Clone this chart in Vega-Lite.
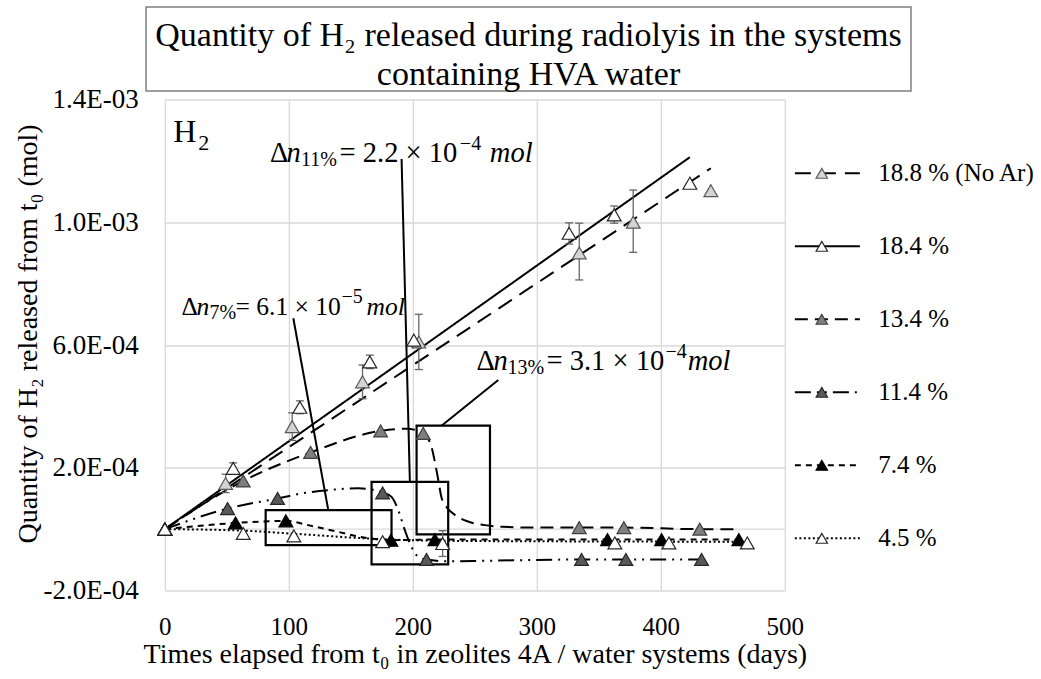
{
"$schema": "https://vega.github.io/schema/vega-lite/v6.json",
"background": "#ffffff",
"padding": {"left": 14, "top": 6, "right": 0, "bottom": 0},
"config": {"font": "Liberation Serif", "view": {"stroke": null}},
"datasets": {
"points": [
{"series":"18.8 % (No Ar)","day":0,"mol":0},
{"series":"18.8 % (No Ar)","day":49,"mol":0.000149},
{"series":"18.8 % (No Ar)","day":102.7,"mol":0.000334},
{"series":"18.8 % (No Ar)","day":159.4,"mol":0.00048},
{"series":"18.8 % (No Ar)","day":204.8,"mol":0.00061},
{"series":"18.8 % (No Ar)","day":334.2,"mol":0.0009},
{"series":"18.8 % (No Ar)","day":377.7,"mol":0.001},
{"series":"18.8 % (No Ar)","day":440.3,"mol":0.001103},
{"series":"18.4 %","day":0,"mol":0},
{"series":"18.4 %","day":55.1,"mol":0.000198},
{"series":"18.4 %","day":108.9,"mol":0.000397},
{"series":"18.4 %","day":165.3,"mol":0.000545},
{"series":"18.4 %","day":200.8,"mol":0.000616},
{"series":"18.4 %","day":326,"mol":0.000964},
{"series":"18.4 %","day":362.4,"mol":0.001024},
{"series":"18.4 %","day":423.4,"mol":0.001127},
{"series":"13.4 %","day":0,"mol":0},
{"series":"13.4 %","day":63.2,"mol":0.000157},
{"series":"13.4 %","day":117.5,"mol":0.00025},
{"series":"13.4 %","day":174,"mol":0.00032},
{"series":"13.4 %","day":208.4,"mol":0.000312},
{"series":"13.4 %","day":334.2,"mol":0.000005},
{"series":"13.4 %","day":370.2,"mol":0.000005},
{"series":"13.4 %","day":431.4,"mol":0},
{"series":"11.4 %","day":0,"mol":0},
{"series":"11.4 %","day":50.6,"mol":0.000067},
{"series":"11.4 %","day":90.9,"mol":0.0001},
{"series":"11.4 %","day":175.6,"mol":0.000118},
{"series":"11.4 %","day":211,"mol":-0.000099},
{"series":"11.4 %","day":336,"mol":-0.000099},
{"series":"11.4 %","day":371.8,"mol":-0.000099},
{"series":"11.4 %","day":432.8,"mol":-0.000099},
{"series":"7.4 %","day":0,"mol":0},
{"series":"7.4 %","day":57,"mol":0.00002},
{"series":"7.4 %","day":97.6,"mol":0.000027},
{"series":"7.4 %","day":182.3,"mol":-0.000036},
{"series":"7.4 %","day":217.8,"mol":-0.000034},
{"series":"7.4 %","day":357,"mol":-0.000034},
{"series":"7.4 %","day":400.6,"mol":-0.000034},
{"series":"7.4 %","day":462.9,"mol":-0.000034},
{"series":"4.5 %","day":0,"mol":0},
{"series":"4.5 %","day":63.2,"mol":-0.000014},
{"series":"4.5 %","day":104,"mol":-0.000022},
{"series":"4.5 %","day":175.6,"mol":-0.000041},
{"series":"4.5 %","day":224,"mol":-0.000047},
{"series":"4.5 %","day":362.9,"mol":-0.000045},
{"series":"4.5 %","day":406.5,"mol":-0.000045},
{"series":"4.5 %","day":469.7,"mol":-0.000045}
],
"curves": [
{"series":"18.8 % (No Ar)","day":0,"mol":0},
{"series":"18.8 % (No Ar)","day":440.3,"mol":0.001176},
{"series":"18.4 %","day":0,"mol":0},
{"series":"18.4 %","day":423.4,"mol":0.001212},
{"series":"13.4 %","day":0,"mol":0},
{"series":"13.4 %","day":63.2,"mol":0.000157},
{"series":"13.4 %","day":117.5,"mol":0.00025},
{"series":"13.4 %","day":174,"mol":0.00032},
{"series":"13.4 %","day":195,"mol":0.000327},
{"series":"13.4 %","day":208.4,"mol":0.000312},
{"series":"13.4 %","day":215,"mol":0.000268},
{"series":"13.4 %","day":218,"mol":0.000214},
{"series":"13.4 %","day":220.5,"mol":0.00016},
{"series":"13.4 %","day":223,"mol":0.000105},
{"series":"13.4 %","day":227,"mol":0.000073},
{"series":"13.4 %","day":234,"mol":0.000046},
{"series":"13.4 %","day":245,"mol":0.000024},
{"series":"13.4 %","day":258,"mol":0.000013},
{"series":"13.4 %","day":272,"mol":0.0000075},
{"series":"13.4 %","day":300,"mol":0.000005},
{"series":"13.4 %","day":334.2,"mol":0.000005},
{"series":"13.4 %","day":370.2,"mol":0.000005},
{"series":"13.4 %","day":431.4,"mol":0},
{"series":"13.4 %","day":459.7,"mol":0},
{"series":"11.4 %","day":0,"mol":0},
{"series":"11.4 %","day":50.6,"mol":0.000067},
{"series":"11.4 %","day":90.9,"mol":0.0001},
{"series":"11.4 %","day":110,"mol":0.000116},
{"series":"11.4 %","day":137,"mol":0.000129},
{"series":"11.4 %","day":156,"mol":0.000133},
{"series":"11.4 %","day":175.6,"mol":0.00012},
{"series":"11.4 %","day":182.8,"mol":0.000105},
{"series":"11.4 %","day":188.2,"mol":0.000062},
{"series":"11.4 %","day":193.5,"mol":-0.000003},
{"series":"11.4 %","day":198.9,"mol":-0.000058},
{"series":"11.4 %","day":204.3,"mol":-0.00009},
{"series":"11.4 %","day":211,"mol":-0.000099},
{"series":"11.4 %","day":228.5,"mol":-0.000105},
{"series":"11.4 %","day":260,"mol":-0.000103},
{"series":"11.4 %","day":336,"mol":-0.000099},
{"series":"11.4 %","day":371.8,"mol":-0.000099},
{"series":"11.4 %","day":432.8,"mol":-0.000099},
{"series":"7.4 %","day":0,"mol":0},
{"series":"7.4 %","day":57,"mol":0.00002},
{"series":"7.4 %","day":97.6,"mol":0.000027},
{"series":"7.4 %","day":115.6,"mol":0.000013},
{"series":"7.4 %","day":139.8,"mol":-0.000009},
{"series":"7.4 %","day":164,"mol":-0.00003},
{"series":"7.4 %","day":182.3,"mol":-0.000036},
{"series":"7.4 %","day":217.8,"mol":-0.000034},
{"series":"7.4 %","day":357,"mol":-0.000034},
{"series":"7.4 %","day":400.6,"mol":-0.000034},
{"series":"7.4 %","day":462.9,"mol":-0.000034},
{"series":"4.5 %","day":0,"mol":0},
{"series":"4.5 %","day":63,"mol":-0.000005},
{"series":"4.5 %","day":104,"mol":-0.000015},
{"series":"4.5 %","day":176,"mol":-0.000033},
{"series":"4.5 %","day":224,"mol":-0.000038},
{"series":"4.5 %","day":330,"mol":-0.00004},
{"series":"4.5 %","day":470,"mol":-0.000041}
],
"errors": [
{"series":"18.8 % (No Ar)","day":49,"lo":0.000119,"hi":0.000179},
{"series":"18.8 % (No Ar)","day":102.7,"lo":0.000289,"hi":0.000379},
{"series":"18.8 % (No Ar)","day":159.4,"lo":0.000425,"hi":0.000535},
{"series":"18.8 % (No Ar)","day":204.8,"lo":0.00052,"hi":0.0007},
{"series":"18.8 % (No Ar)","day":334.2,"lo":0.000812,"hi":0.000997},
{"series":"18.8 % (No Ar)","day":377.7,"lo":0.000902,"hi":0.001105},
{"series":"18.4 %","day":55.1,"lo":0.00018,"hi":0.000216},
{"series":"18.4 %","day":108.9,"lo":0.000376,"hi":0.000418},
{"series":"18.4 %","day":165.3,"lo":0.000523,"hi":0.000567},
{"series":"18.4 %","day":326,"lo":0.000929,"hi":0.000998},
{"series":"18.4 %","day":362.4,"lo":0.000997,"hi":0.001053},
{"series":"4.5 %","day":224,"lo":-0.000089,"hi":-0.000005}
],
"boxes": [
{"day":81.3,"day2":182.8,"mol":0.000062,"mol2":-0.000052},
{"day":166.7,"day2":228.5,"mol":0.000154,"mol2":-0.000115},
{"day":203,"day2":262.2,"mol":0.000337,"mol2":-0.000017}
],
"leaders": [
{"day":103.6,"mol":0.000687,"day2":131.8,"mol2":0.000062},
{"day":190.9,"mol":0.001206,"day2":197.6,"mol2":0.000154},
{"day":268.9,"mol":0.000486,"day2":223.1,"mol2":0.000337}
],
"notes": [
{"note":"H","part":"big","text":"H","day":6.8,"mol":0.001263},
{"note":"H","part":"bigsub","text":"2","day":26.9,"mol":0.001236},
{"note":"11","part":"up","text":"Δ","day":84.7,"mol":0.001196},
{"note":"11","part":"it","text":"n","day":98.1,"mol":0.001196},
{"note":"11","part":"sub","text":"11%","day":109.8,"mol":0.001183},
{"note":"11","part":"up","text":"= 2.2 × 10","day":140.9,"mol":0.001196},
{"note":"11","part":"sup","text":"−4","day":237.9,"mol":0.001236},
{"note":"11","part":"it","text":"mol","day":262.1,"mol":0.001196},
{"note":"7","part":"up","text":"Δ","day":13.5,"mol":0.000698},
{"note":"7","part":"it","text":"n","day":25.6,"mol":0.000698},
{"note":"7","part":"sub","text":"7%","day":36.0,"mol":0.000685},
{"note":"7","part":"up","text":"= 6.1 × 10","day":57.0,"mol":0.000698},
{"note":"7","part":"sup","text":"−5","day":142.5,"mol":0.000737},
{"note":"7","part":"it","text":"mol","day":162.7,"mol":0.000698},
{"note":"13","part":"up","text":"Δ","day":251.4,"mol":0.000518},
{"note":"13","part":"it","text":"n","day":265.1,"mol":0.000518},
{"note":"13","part":"sub","text":"13%","day":276.4,"mol":0.000505},
{"note":"13","part":"up","text":"= 3.1 × 10","day":307.8,"mol":0.000518},
{"note":"13","part":"sup","text":"−4","day":403.8,"mol":0.000557},
{"note":"13","part":"it","text":"mol","day":421.6,"mol":0.000518}
],
"legendrows": [
{"series":"18.8 % (No Ar)"},
{"series":"18.4 %"},
{"series":"13.4 %"},
{"series":"11.4 %"},
{"series":"7.4 %"},
{"series":"4.5 %"}
]
},
"center": true,
"spacing": -6.5,
"vconcat": [
{
"width": 1170,
"height": 84,
"layer": [
{
"data": {"values": [{}]},
"mark": {"type": "rect", "filled": false, "stroke": "#7f7f7f", "strokeWidth": 1.5},
"encoding": {
"x": {"datum": 0.112, "type": "quantitative", "scale": {"domain": [0, 1], "nice": false, "zero": false}, "axis": null},
"x2": {"datum": 0.7658},
"y": {"datum": 0, "type": "quantitative", "scale": {"domain": [0, 1], "nice": false, "zero": false}, "axis": null},
"y2": {"datum": 1}
}
},
{
"data": {"values": [{"line": "Quantity of H₂ released during radiolyis in the systems", "pos": 0.536}, {"line": "containing HVA water", "pos": 0.072}]},
"mark": {"type": "text", "font": "Liberation Serif", "fontSize": 34, "align": "center", "baseline": "alphabetic", "color": "#000000"},
"encoding": {
"x": {"datum": 0.4389, "type": "quantitative", "axis": null},
"y": {"field": "pos", "type": "quantitative", "axis": null},
"text": {"field": "line", "type": "nominal"}
}
}
]
},
{
"hconcat": [
{
"width": 620,
"height": 491,
"layer": [
{
"data": {"values": [{}]},
"mark": {"type": "rule", "color": "#d9d9d9", "strokeWidth": 1.3},
"encoding": {"y": {"datum": 0, "type": "quantitative"}}
},
{
"data": {"name": "curves"},
"mark": {"type": "line", "interpolate": "monotone", "color": "#000000", "strokeWidth": 2},
"encoding": {
"x": {"field": "day", "type": "quantitative", "scale": {"domain": [0, 500], "nice": false, "zero": false},
"axis": {"title": "Times elapsed from t₀ in zeolites 4A / water systems (days)", "values": [0, 100, 200, 300, 400, 500], "grid": true, "gridColor": "#d9d9d9", "gridWidth": 1.3, "domain": false, "ticks": false, "tickSize": 0, "labelFont": "Liberation Serif", "labelFontSize": 25, "labelPadding": 24, "labelColor": "#000000", "labelFlush": false, "labelOverlap": false, "titleFont": "Liberation Serif", "titleFontSize": 28, "titleFontWeight": "normal", "titleColor": "#000000", "titlePadding": 1}},
"y": {"field": "mol", "type": "quantitative", "scale": {"domain": [-0.0002, 0.0014], "nice": false, "zero": false},
"axis": {"title": "Quantity of H₂ released from t₀ (mol)", "values": [-0.0002, 0.0002, 0.0006, 0.001, 0.0014], "labelExpr": "replace(replace(format(datum.value, '.1e'), 'e-', 'E-0'), '−', '-')", "grid": true, "gridColor": "#d9d9d9", "gridWidth": 1.3, "domain": false, "ticks": false, "tickSize": 0, "labelFont": "Liberation Serif", "labelFontSize": 27, "labelPadding": 26.6, "labelColor": "#000000", "labelFlush": false, "labelOverlap": false, "titleFont": "Liberation Serif", "titleFontSize": 28, "titleFontWeight": "normal", "titleColor": "#000000", "titlePadding": 1, "titleY": 234}},
"strokeDash": {"field": "series", "type": "nominal", "scale": {"domain": ["18.8 % (No Ar)", "18.4 %", "13.4 %", "11.4 %", "7.4 %", "4.5 %"], "range": [[16, 9], [1, 0], [13, 7], [16, 6, 2, 6, 2, 6], [6, 5], [2, 2.5]]}, "legend": null},
"detail": {"field": "series", "type": "nominal"}
}
},
{
"data": {"name": "boxes"},
"mark": {"type": "rect", "filled": false, "color": "#000000", "strokeWidth": 2.2},
"encoding": {
"x": {"field": "day", "type": "quantitative"},
"x2": {"field": "day2"},
"y": {"field": "mol", "type": "quantitative"},
"y2": {"field": "mol2"}
}
},
{
"data": {"name": "leaders"},
"mark": {"type": "rule", "color": "#000000", "strokeWidth": 2},
"encoding": {
"x": {"field": "day", "type": "quantitative"},
"x2": {"field": "day2"},
"y": {"field": "mol", "type": "quantitative"},
"y2": {"field": "mol2"}
}
},
{
"data": {"name": "errors"},
"mark": {"type": "rule", "color": "#666666", "strokeWidth": 1.3},
"encoding": {
"x": {"field": "day", "type": "quantitative"},
"y": {"field": "lo", "type": "quantitative"},
"y2": {"field": "hi"}
}
},
{
"data": {"name": "errors"},
"mark": {"type": "point", "shape": "stroke", "filled": false, "color": "#666666", "size": 64, "strokeWidth": 1.3, "opacity": 1},
"encoding": {
"x": {"field": "day", "type": "quantitative"},
"y": {"field": "lo", "type": "quantitative"}
}
},
{
"data": {"name": "errors"},
"mark": {"type": "point", "shape": "stroke", "filled": false, "color": "#666666", "size": 64, "strokeWidth": 1.3, "opacity": 1},
"encoding": {
"x": {"field": "day", "type": "quantitative"},
"y": {"field": "hi", "type": "quantitative"}
}
},
{
"data": {"name": "points"},
"mark": {"type": "point", "shape": "triangle-up", "filled": true, "strokeWidth": 1.2, "opacity": 1},
"encoding": {
"x": {"field": "day", "type": "quantitative"},
"y": {"field": "mol", "type": "quantitative"},
"fill": {"field": "series", "type": "nominal", "scale": {"domain": ["18.8 % (No Ar)", "18.4 %", "13.4 %", "11.4 %", "7.4 %", "4.5 %"], "range": ["#d4d4d4", "#ffffff", "#7f7f7f", "#595959", "#000000", "#ffffff"]}, "legend": null},
"stroke": {"field": "series", "type": "nominal", "scale": {"domain": ["18.8 % (No Ar)", "18.4 %", "13.4 %", "11.4 %", "7.4 %", "4.5 %"], "range": ["#595959", "#262626", "#404040", "#262626", "#000000", "#262626"]}, "legend": null},
"size": {"field": "series", "type": "nominal", "scale": {"domain": ["18.8 % (No Ar)", "18.4 %", "13.4 %", "11.4 %", "7.4 %", "4.5 %"], "range": [190, 190, 190, 190, 100, 190]}, "legend": null}
}
},
{
"data": {"name": "notes"},
"transform": [{"filter": "datum.part === 'up' && datum.note !== '7'"}],
"mark": {"type": "text", "align": "left", "baseline": "alphabetic", "font": "Liberation Serif", "fontSize": 28.5, "color": "#000000"},
"encoding": {
"x": {"field": "day", "type": "quantitative"},
"y": {"field": "mol", "type": "quantitative"},
"text": {"field": "text", "type": "nominal"}
}
},
{
"data": {"name": "notes"},
"transform": [{"filter": "datum.part === 'it' && datum.note !== '7'"}],
"mark": {"type": "text", "align": "left", "baseline": "alphabetic", "font": "Liberation Serif", "fontStyle": "italic", "fontSize": 28.5, "color": "#000000"},
"encoding": {
"x": {"field": "day", "type": "quantitative"},
"y": {"field": "mol", "type": "quantitative"},
"text": {"field": "text", "type": "nominal"}
}
},
{
"data": {"name": "notes"},
"transform": [{"filter": "datum.part === 'up' && datum.note === '7'"}],
"mark": {"type": "text", "align": "left", "baseline": "alphabetic", "font": "Liberation Serif", "fontSize": 25.5, "color": "#000000"},
"encoding": {
"x": {"field": "day", "type": "quantitative"},
"y": {"field": "mol", "type": "quantitative"},
"text": {"field": "text", "type": "nominal"}
}
},
{
"data": {"name": "notes"},
"transform": [{"filter": "datum.part === 'it' && datum.note === '7'"}],
"mark": {"type": "text", "align": "left", "baseline": "alphabetic", "font": "Liberation Serif", "fontStyle": "italic", "fontSize": 25.5, "color": "#000000"},
"encoding": {
"x": {"field": "day", "type": "quantitative"},
"y": {"field": "mol", "type": "quantitative"},
"text": {"field": "text", "type": "nominal"}
}
},
{
"data": {"name": "notes"},
"transform": [{"filter": "datum.part === 'sub' || datum.part === 'sup'"}],
"mark": {"type": "text", "align": "left", "baseline": "alphabetic", "font": "Liberation Serif", "fontSize": 20, "color": "#000000"},
"encoding": {
"x": {"field": "day", "type": "quantitative"},
"y": {"field": "mol", "type": "quantitative"},
"text": {"field": "text", "type": "nominal"}
}
},
{
"data": {"name": "notes"},
"transform": [{"filter": "datum.part === 'big'"}],
"mark": {"type": "text", "align": "left", "baseline": "alphabetic", "font": "Liberation Serif", "fontSize": 32, "color": "#000000"},
"encoding": {
"x": {"field": "day", "type": "quantitative"},
"y": {"field": "mol", "type": "quantitative"},
"text": {"field": "text", "type": "nominal"}
}
},
{
"data": {"name": "notes"},
"transform": [{"filter": "datum.part === 'bigsub'"}],
"mark": {"type": "text", "align": "left", "baseline": "alphabetic", "font": "Liberation Serif", "fontSize": 22, "color": "#000000"},
"encoding": {
"x": {"field": "day", "type": "quantitative"},
"y": {"field": "mol", "type": "quantitative"},
"text": {"field": "text", "type": "nominal"}
}
}
]
},
{
"width": 98,
"height": 491,
"data": {"name": "legendrows"},
"layer": [
{
"mark": {"type": "rule", "color": "#000000", "strokeWidth": 2},
"encoding": {
"x": {"datum": 0, "type": "quantitative", "scale": {"domain": [0, 1.508], "nice": false, "zero": false}, "axis": null},
"x2": {"datum": 1},
"y": {"field": "series", "type": "nominal", "scale": {"type": "point", "domain": ["18.8 % (No Ar)", "18.4 %", "13.4 %", "11.4 %", "7.4 %", "4.5 %"], "padding": 0.863, "align": 0.586}, "axis": null},
"strokeDash": {"field": "series", "type": "nominal", "scale": {"domain": ["18.8 % (No Ar)", "18.4 %", "13.4 %", "11.4 %", "7.4 %", "4.5 %"], "range": [[16, 9], [1, 0], [13, 7], [16, 6, 2, 6, 2, 6], [6, 5], [2, 2.5]]}, "legend": null}
}
},
{
"mark": {"type": "point", "shape": "triangle-up", "filled": true, "strokeWidth": 1.2, "opacity": 1},
"encoding": {
"x": {"datum": 0.415, "type": "quantitative", "axis": null},
"y": {"field": "series", "type": "nominal", "axis": null},
"fill": {"field": "series", "type": "nominal", "scale": {"domain": ["18.8 % (No Ar)", "18.4 %", "13.4 %", "11.4 %", "7.4 %", "4.5 %"], "range": ["#d4d4d4", "#ffffff", "#7f7f7f", "#595959", "#000000", "#ffffff"]}, "legend": null},
"stroke": {"field": "series", "type": "nominal", "scale": {"domain": ["18.8 % (No Ar)", "18.4 %", "13.4 %", "11.4 %", "7.4 %", "4.5 %"], "range": ["#595959", "#262626", "#404040", "#262626", "#000000", "#262626"]}, "legend": null},
"size": {"field": "series", "type": "nominal", "scale": {"domain": ["18.8 % (No Ar)", "18.4 %", "13.4 %", "11.4 %", "7.4 %", "4.5 %"], "range": [130, 130, 130, 130, 80, 130]}, "legend": null}
}
},
{
"mark": {"type": "text", "align": "left", "baseline": "middle", "font": "Liberation Serif", "fontSize": 25, "color": "#000000"},
"encoding": {
"x": {"datum": 1.283, "type": "quantitative", "axis": null},
"y": {"field": "series", "type": "nominal", "axis": null},
"text": {"field": "series", "type": "nominal"}
}
}
]
}
],
"spacing": 10,
"bounds": "flush",
"resolve": {"scale": {"x": "independent", "y": "independent", "strokeDash": "independent", "fill": "independent", "stroke": "independent", "size": "independent"}}
}
]
}
